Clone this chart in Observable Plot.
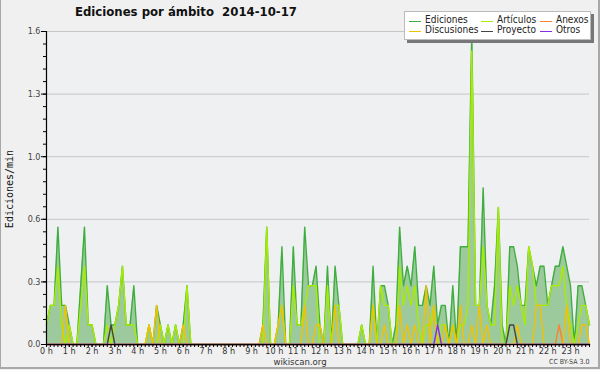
<!DOCTYPE html>
<html><head><meta charset="utf-8">
<script src="https://cdn.jsdelivr.net/npm/d3@7"></script>
<script src="https://cdn.jsdelivr.net/npm/@observablehq/plot@0.6"></script>
<style>
body{margin:0;background:#f0f0f0;}
#wrap{position:relative;width:600px;height:370px;overflow:hidden;font-family:"DejaVu Sans Condensed","DejaVu Sans",sans-serif;font-stretch:condensed;color:#222;}
#wrap svg{position:absolute;left:0;top:0;}
#border{position:absolute;left:0;top:0;width:597px;height:367px;border-left:1px solid #a8a8a8;border-right:2px solid #a8a8a8;border-bottom:2px solid #a8a8a8;pointer-events:none;}
#title{position:absolute;left:75px;top:4px;font-weight:bold;font-size:13px;white-space:pre;color:#111;}
#ylab{position:absolute;left:9px;top:189px;transform:translate(-50%,-50%) rotate(-90deg);font-family:"DejaVu Sans Mono",monospace;font-size:10px;white-space:nowrap;color:#111;}
#legend{position:absolute;left:404px;top:11px;width:185px;height:27px;background:#fff;border:1px solid #bbb;box-shadow:3px 3px 0 #777;}
.li{position:absolute;font-size:10px;white-space:nowrap;color:#222;}
.sw{position:absolute;height:0;width:12px;border-top:1px solid;}
#site{position:absolute;left:0;width:600px;top:357px;text-align:center;font-size:9.5px;color:#333;line-height:9px;}
#cc{position:absolute;left:549px;top:359px;font-size:7px;color:#444;white-space:nowrap;line-height:7px;}
</style></head>
<body><div id="wrap">
<div id="chart"></div>
<div id="title"></div>
<div id="ylab"></div>
<div id="legend"></div>
<div id="site"></div>
<div id="cc"></div>
<div id="border"></div>
</div>
<script>
const titleText = "Ediciones por ámbito  2014-10-17";
const yLabel = "Ediciones/min";
const siteText = "wikiscan.org";
const licenseText = "CC BY-SA 3.0";
const seriesNames = ["Ediciones","Artículos","Anexos","Discusiones","Proyecto","Otros"];
const seriesColors = ["#3fae3f","#a8ec00","#ff7f33","#f2c200","#444444","#8a2be2"];
const yTicks = [0, 0.32, 0.64, 0.96, 1.28, 1.6];
const hourTicks = d3.range(0, 24);

// 10-minute buckets, edits per minute
const ediciones = [
0.1,0.2,0.2,0.6,0.2,0.2,0.1,0,0,0.3,
0.6,0.1,0.1,0,0,0,0.3,0.1,0.1,0.2,
0.4,0.1,0.1,0.3,0,0,0,0.1,0,0.2,
0.1,0,0.1,0,0.1,0,0.1,0.3,0,0,
0,0,0,0,0,0,0,0,0,0,
0,0,0,0,0,0,0,0.1,0.6,0,
0,0.1,0.5,0,0,0.5,0.1,0.1,0.6,0.3,
0.3,0.4,0.1,0,0.4,0,0.4,0.2,0,0,
0,0,0,0.1,0,0,0.4,0,0.3,0.3,
0.2,0,0.1,0.6,0.3,0.4,0.3,0.5,0.2,0.2,
0.3,0.2,0.4,0.1,0.2,0.2,0,0.3,0,0.5,
0.5,0.5,1.6,0.2,0.2,0.8,0.2,0.1,0.3,0.7,
0.1,0,0.5,0.5,0.4,0.2,0.2,0.5,0.4,0.3,
0.4,0.4,0.2,0.3,0.4,0.4,0.5,0.4,0.3,0,
0.3,0.3,0.2,0.1];
const articulos = [
0.1,0.2,0.2,0.4,0.1,0,0.1,0,0,0.2,
0.4,0.1,0.1,0,0,0,0.1,0,0.1,0.2,
0.4,0.1,0.1,0.1,0,0,0,0.1,0,0,
0.1,0,0.1,0,0.1,0,0,0.3,0,0,
0,0,0,0,0,0,0,0,0,0,
0,0,0,0,0,0,0,0,0.6,0,
0,0.1,0.2,0,0,0.3,0.1,0.1,0.2,0.3,
0.3,0.3,0,0,0.3,0,0.2,0.2,0,0,
0,0,0,0.1,0,0,0.2,0,0.3,0.2,
0.2,0,0,0.4,0.2,0.3,0.2,0.3,0.1,0,
0.1,0.1,0.2,0,0.1,0.1,0,0.1,0,0.1,
0.1,0.2,1.5,0.2,0.2,0.5,0.2,0.1,0.1,0.7,
0,0,0.3,0.2,0.3,0.2,0.1,0.5,0.4,0.2,
0.2,0.2,0.2,0.3,0.3,0.3,0.4,0.2,0.1,0,
0.1,0.2,0.2,0.1];
const anexos = [
0,0,0,0,0,0,0,0,0,0, 0,0,0,0,0,0,0,0,0,0, 0,0,0,0,0,0,0,0,0,0,
0,0,0,0,0,0,0,0,0,0, 0,0,0,0,0,0,0,0,0,0, 0,0,0,0,0,0,0,0,0,0,
0,0,0,0,0,0,0,0,0,0, 0,0,0,0,0,0,0,0,0,0, 0,0,0,0,0,0,0,0,0,0,
0,0,0,0,0,0,0,0,0,0, 0,0,0,0,0,0,0,0,0,0, 0,0,0,0,0,0,0,0,0,0,
0,0,0,0,0,0,0,0,0,0, 0,0,0,0,0,0.1,0,0,0,0, 0,0,0,0];
const discusiones = [
0,0,0,0,0,0.2,0,0,0,0,
0,0,0,0,0,0,0,0,0,0,
0,0,0,0,0,0,0,0.1,0,0.2,
0,0,0,0,0,0,0.1,0,0,0,
0,0,0,0,0,0,0,0,0,0,
0,0,0,0,0,0,0,0.1,0,0,
0,0.1,0.2,0,0,0,0,0,0.2,0,
0,0.1,0.1,0,0,0,0.2,0,0,0,
0,0,0,0,0,0,0.2,0,0,0.1,
0,0,0,0.2,0,0.1,0,0.1,0,0,
0.3,0,0.2,0,0,0.1,0,0.1,0,0.2,
0,0,0.1,0,0.2,0,0.1,0,0,0,
0,0,0,0,0.1,0,0,0,0,0.2,
0.2,0,0,0,0,0,0,0.2,0,0,
0,0.1,0.1,0];
const proyecto = [
0,0,0,0,0,0,0,0,0,0, 0,0,0,0,0,0,0,0.1,0,0, 0,0,0,0,0,0,0,0,0,0,
0,0,0,0,0,0,0,0,0,0, 0,0,0,0,0,0,0,0,0,0, 0,0,0,0,0,0,0,0,0,0,
0,0,0,0,0,0,0,0,0,0, 0,0,0,0,0,0,0,0,0,0, 0,0,0,0,0,0,0,0,0,0,
0,0,0,0,0,0,0,0,0,0, 0,0,0,0,0,0,0,0,0,0, 0,0,0,0,0,0,0,0,0,0,
0,0,0.1,0.1,0,0,0,0,0,0, 0,0,0,0,0,0,0,0,0,0, 0,0,0,0];
const otros = [
0,0,0,0,0,0,0,0,0,0, 0,0,0,0,0,0,0,0,0,0, 0,0,0,0,0,0,0,0,0,0,
0,0,0,0,0,0,0,0,0,0, 0,0,0,0,0,0,0,0,0,0, 0,0,0,0,0,0,0,0,0,0,
0,0,0,0,0,0,0,0,0,0, 0,0,0,0,0,0,0,0,0,0, 0,0,0,0,0,0,0,0,0,0,
0,0,0,0,0,0,0,0,0,0, 0,0,0,0.1,0,0,0,0,0,0, 0,0,0,0,0,0,0,0,0,0,
0,0,0,0,0,0,0,0,0,0, 0,0,0,0,0,0,0,0,0,0, 0,0,0,0];

const seriesValues = [ediciones, articulos, anexos, discusiones, proyecto, otros];
const hours = ediciones.map((_, i) => i / 6);
const totalRows = hours.map((h, i) => ({h, v: ediciones[i]}));
const lineRows = [];
seriesValues.forEach((vals, s) => vals.forEach((v, i) => lineRows.push({h: hours[i], v, s: seriesNames[s]})));
const drawOrder = ["Ediciones","Artículos","Anexos","Discusiones","Proyecto","Otros"];

const yMinor = d3.range(0, 25).map(k => +(k * 0.064).toFixed(3)).filter(v => v <= 1.6);
const xMinor = hours;
const font = '"DejaVu Sans Condensed","DejaVu Sans",sans-serif';

const chart = Plot.plot({
  width: 600, height: 370,
  marginLeft: 46, marginRight: 11, marginTop: 31, marginBottom: 26,
  x: {domain: [0, 143/6], axis: null, label: null},
  y: {domain: [0, 1.6], axis: null, label: null},
  color: {domain: seriesNames, range: seriesColors},
  style: {background: "transparent", fontFamily: font, fontSize: "9px", color: "#333", overflow: "visible"},
  marks: [
    Plot.frame({fill: "#eef0f2", stroke: null}),
    Plot.gridY(yTicks, {stroke: "#c6c6c6", strokeOpacity: 1}),
    Plot.areaY(totalRows, {x: "h", y: "v", fill: "#9dca9d", fillOpacity: 1, curve: "linear"}),
    ...drawOrder.map(name => Plot.lineY(lineRows.filter(d => d.s === name), {x: "h", y: "v", stroke: "s", strokeWidth: 1.4, curve: "linear"})),
    Plot.ruleY([0], {stroke: "#000", strokeWidth: 1.2}),
    Plot.ruleX([0], {stroke: "#000", strokeWidth: 1.2}),
    Plot.axisY({ticks: yMinor, tickSize: 3, tickFormat: () => "", stroke: "#000", label: null}),
    Plot.axisY({ticks: yTicks, tickSize: 5, tickPadding: 1, tickFormat: d3.format(".1f"), stroke: "#000", fill: "#444", label: null}),
    Plot.axisX({ticks: xMinor, tickSize: 3, tickFormat: () => "", stroke: "#000", label: null}),
    Plot.axisX({ticks: hourTicks, tickSize: 3, tickPadding: 0, tickFormat: d => `${d} h`, stroke: "#000", fill: "#333", label: null})
  ]
});
document.getElementById("chart").appendChild(chart);

document.getElementById("title").textContent = titleText;
document.getElementById("ylab").textContent = yLabel;
document.getElementById("site").textContent = siteText;
document.getElementById("cc").textContent = licenseText;

// legend: 3 columns x 2 rows, order as in the reference
const legendPos = [[0,0],[1,0],[2,0],[0,1],[1,1],[2,1]];
const colX = [4, 76, 135];
const legend = document.getElementById("legend");
const legendOrder = ["Ediciones","Artículos","Anexos","Discusiones","Proyecto","Otros"];
legendOrder.forEach((name, k) => {
  const [c, r] = legendPos[k];
  const col = seriesColors[seriesNames.indexOf(name)];
  const sw = document.createElement("div");
  sw.className = "sw";
  sw.style.left = colX[c] + "px";
  sw.style.top = (9 + r * 9.5) + "px";
  sw.style.borderTopColor = col;
  legend.appendChild(sw);
  const t = document.createElement("div");
  t.className = "li";
  t.style.left = (colX[c] + 16) + "px";
  t.style.top = (2 + r * 9.5) + "px";
  t.textContent = name;
  legend.appendChild(t);
});
</script>
</body></html>
